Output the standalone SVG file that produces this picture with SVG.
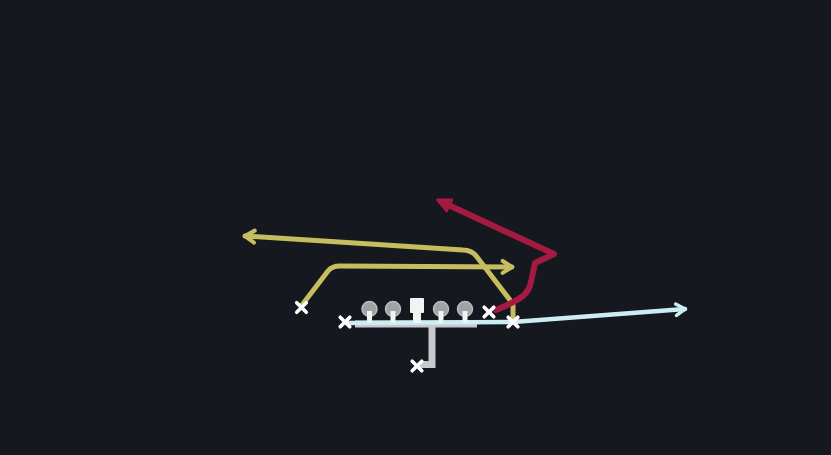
<svg xmlns="http://www.w3.org/2000/svg" width="831" height="455" viewBox="0 0 831 455">
<style>
.bg{fill:#15181f}
.y{fill:none;stroke:#c6bc60;stroke-width:5;stroke-linejoin:round;stroke-linecap:round}
.r{fill:none;stroke:#a51a40;stroke-width:6;stroke-linejoin:round;stroke-linecap:round}
.b{fill:none;stroke:#cdedf4;stroke-width:4.5;stroke-linejoin:round;stroke-linecap:round}
.g{fill:none;stroke:#c6cacc;stroke-width:7;stroke-linejoin:miter}
.x{stroke:#ffffff;stroke-width:3.6;stroke-linecap:round}
.ol{fill:#9ea3a6;stroke:#b8bcbe;stroke-width:1.5}
.c{fill:#f2f3f3}
</style>
<defs>
<marker id="ay" viewBox="0 0 10 10" refX="8" refY="5" markerWidth="3.4" markerHeight="3.4" orient="auto" markerUnits="strokeWidth">
<path d="M2.5,1.5 L8,5 L2.5,8.5" fill="none" stroke="#c6bc60" stroke-width="2.4" stroke-linecap="round" stroke-linejoin="round"/>
</marker>
<marker id="ab" viewBox="0 0 10 10" refX="8" refY="5" markerWidth="3.6" markerHeight="3.6" orient="auto" markerUnits="strokeWidth">
<path d="M2.5,1.5 L8,5 L2.5,8.5" fill="none" stroke="#cdedf4" stroke-width="2.2" stroke-linecap="round" stroke-linejoin="round"/>
</marker>
<marker id="ar" viewBox="0 0 10 10" refX="6" refY="5" markerWidth="2.6" markerHeight="2.6" orient="auto" markerUnits="strokeWidth">
<path d="M0.5,1 L9,5 L0.5,9 Z" fill="#a51a40" stroke="#a51a40" stroke-width="2" stroke-linejoin="round"/>
</marker>
<g id="xm"><line class="x" x1="-4.8" y1="-4.8" x2="4.8" y2="4.8"/><line class="x" x1="4.8" y1="-4.8" x2="-4.8" y2="4.8"/></g>
</defs>
<rect class="bg" x="0" y="0" width="831" height="455"/>
<g id="line-frame">
<path class="g" d="M355,324 L477,324"/>
<path class="g" d="M432,324 L432,364.5 L419,364.5"/>
</g>
<g id="connectors">
<path class="b" d="M347,323 L513,322 L685,309" marker-end="url(#ab)"/>
<path class="y" d="M302,305 L328,271 Q332,266 340,266 L512,267" marker-end="url(#ay)"/>
<path class="y" d="M513,320 L513,304 L477,257 Q472,250 463,250 L245,236" marker-end="url(#ay)"/>
<path class="r" d="M496,310 Q515,302 523,296 Q529,291 531,282 L535,263 L554,254 L442,202" marker-end="url(#ar)"/>
</g>
<g id="lt"><circle class="ol" cx="369.5" cy="309" r="7.5"/><rect class="c" x="367" y="311" width="5" height="12"/></g>
<g id="lg"><circle class="ol" cx="393" cy="309" r="7.5"/><rect class="c" x="390.5" y="311" width="5" height="12"/></g>
<g id="center"><rect class="c" x="410" y="298" width="14" height="15" rx="1"/><rect class="c" x="413" y="312" width="8" height="11"/></g>
<g id="rg"><circle class="ol" cx="441" cy="309" r="7.5"/><rect class="c" x="438.5" y="311" width="5" height="12"/></g>
<g id="rt"><circle class="ol" cx="465" cy="309" r="7.5"/><rect class="c" x="462.5" y="311" width="5" height="12"/></g>
<use id="wr-left" href="#xm" x="345" y="322"/>
<use id="slot-left" href="#xm" x="301.5" y="307.5"/>
<use id="rb" href="#xm" x="417" y="366"/>
<use id="wr-right" href="#xm" x="489" y="312"/>
<use id="te" href="#xm" x="513" y="322"/>
</svg>
